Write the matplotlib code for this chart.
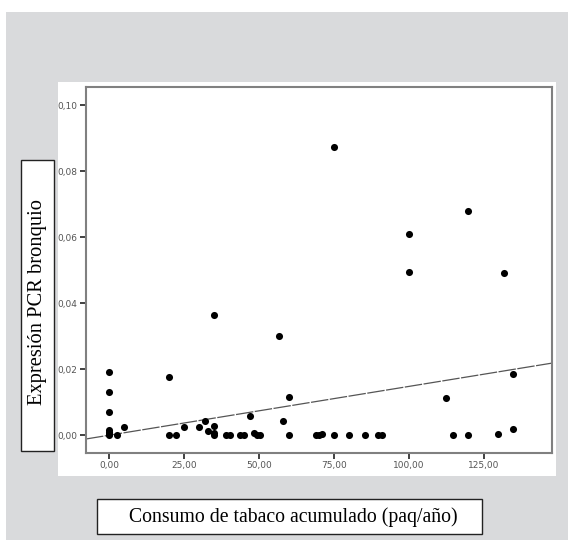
import matplotlib; matplotlib.use('Agg')
import matplotlib.pyplot as plt
from matplotlib.patches import Rectangle

# ---- data -------------------------------------------------------------------
tabaco = [0, 0, 0, 0, 0, 0, 0, 2.5, 4.9, 19.8, 19.8, 22.3, 24.9, 29.9, 31.8,
          32.8, 34.8, 34.8, 34.8, 35.0, 38.8, 40.2, 43.6, 45.0, 46.9, 48.3,
          49.2, 50.2, 56.7, 57.9, 60.0, 60.0, 68.9, 70.1, 71.0, 74.8, 74.8,
          79.9, 85.3, 89.6, 90.9, 99.9, 99.9, 112.3, 114.8, 119.8, 119.8,
          129.8, 131.8, 134.8, 134.8]
pcr = [0.0192, 0.0130, 0.0071, 0.0015, 0.0008, 0.0003, 0.0, 0.0, 0.0024,
       0.0177, 0.0, 0.0, 0.0025, 0.0025, 0.0043, 0.0012, 0.0363, 0.0028,
       0.0005, 0.0, 0.0, 0.0, 0.0, 0.0, 0.0059, 0.0006, 0.0, 0.0, 0.0301,
       0.0043, 0.0116, 0.0, 0.0, 0.0, 0.0003, 0.0872, 0.0, 0.0, 0.0, 0.0,
       0.0, 0.0608, 0.0495, 0.0111, 0.0, 0.0679, 0.0, 0.0003, 0.0492,
       0.0184, 0.0019]

# fitted line, read at the axis ends
fit_x = [-7.8, 147.7]
fit_y = [-0.0012, 0.0218]

xticks = [0, 25, 50, 75, 100, 125]
yticks = [0.00, 0.02, 0.04, 0.06, 0.08, 0.10]

W, H = 568, 540
GREY = '#d9dadc'


def px_rect(x0, y0, x1, y1, **kw):
    """Rectangle given in image pixels (origin top-left)."""
    return Rectangle((x0 / W, 1 - y1 / H), (x1 - x0) / W, (y1 - y0) / H,
                     transform=fig.transFigure, **kw)


fig = plt.figure(figsize=(W / 100, H / 100), dpi=100)
fig.patch.set_facecolor('white')

# background panels
fig.add_artist(px_rect(6, 12, 568, 540, facecolor=GREY, edgecolor='none', zorder=0))
fig.add_artist(px_rect(58, 82, 556, 476, facecolor='white', edgecolor='none', zorder=0))

ax = fig.add_axes([86 / W, 1 - 453 / H, (552 - 86) / W, (453 - 87) / H])
ax.scatter(tabaco, pcr, s=26, color='black', linewidths=0, zorder=3)
ax.plot(fit_x, fit_y, color='#555555', lw=0.9, dashes=(14, 1.2), zorder=2)

ax.set_xlim(-7.8, 147.7)
ax.set_ylim(-0.00545, 0.1055)
ax.set_xticks(xticks)
ax.set_yticks(yticks)
ax.set_xticklabels([f'{v:.2f}'.replace('.', ',') for v in xticks])
ax.set_yticklabels([f'{v:.2f}'.replace('.', ',') for v in yticks])
ax.tick_params(direction='out', length=4, width=1.3, color='#333333',
               labelsize=6.5, labelcolor='#555555', pad=2)
for sp in ax.spines.values():
    sp.set_color('#808080')
    sp.set_linewidth(1.5)

# label boxes
fig.add_artist(px_rect(21, 160, 54, 451, facecolor='white', edgecolor='#222222',
                       lw=1.0, zorder=1))
fig.add_artist(px_rect(97, 499, 482, 534, facecolor='white', edgecolor='#222222',
                       lw=1.0, zorder=1))

fig.text(37.5 / W, 1 - 302 / H, 'Expresión PCR bronquio', rotation=90,
         ha='center', va='center', fontsize=14.8, family='Liberation Serif',
         color='black', zorder=2)
fig.text(293 / W, 1 - 517 / H, 'Consumo de tabaco acumulado (paq/año)',
         ha='center', va='center', fontsize=14.2, family='Liberation Serif',
         color='black', zorder=2)

fig.savefig('out.png', dpi=100)
